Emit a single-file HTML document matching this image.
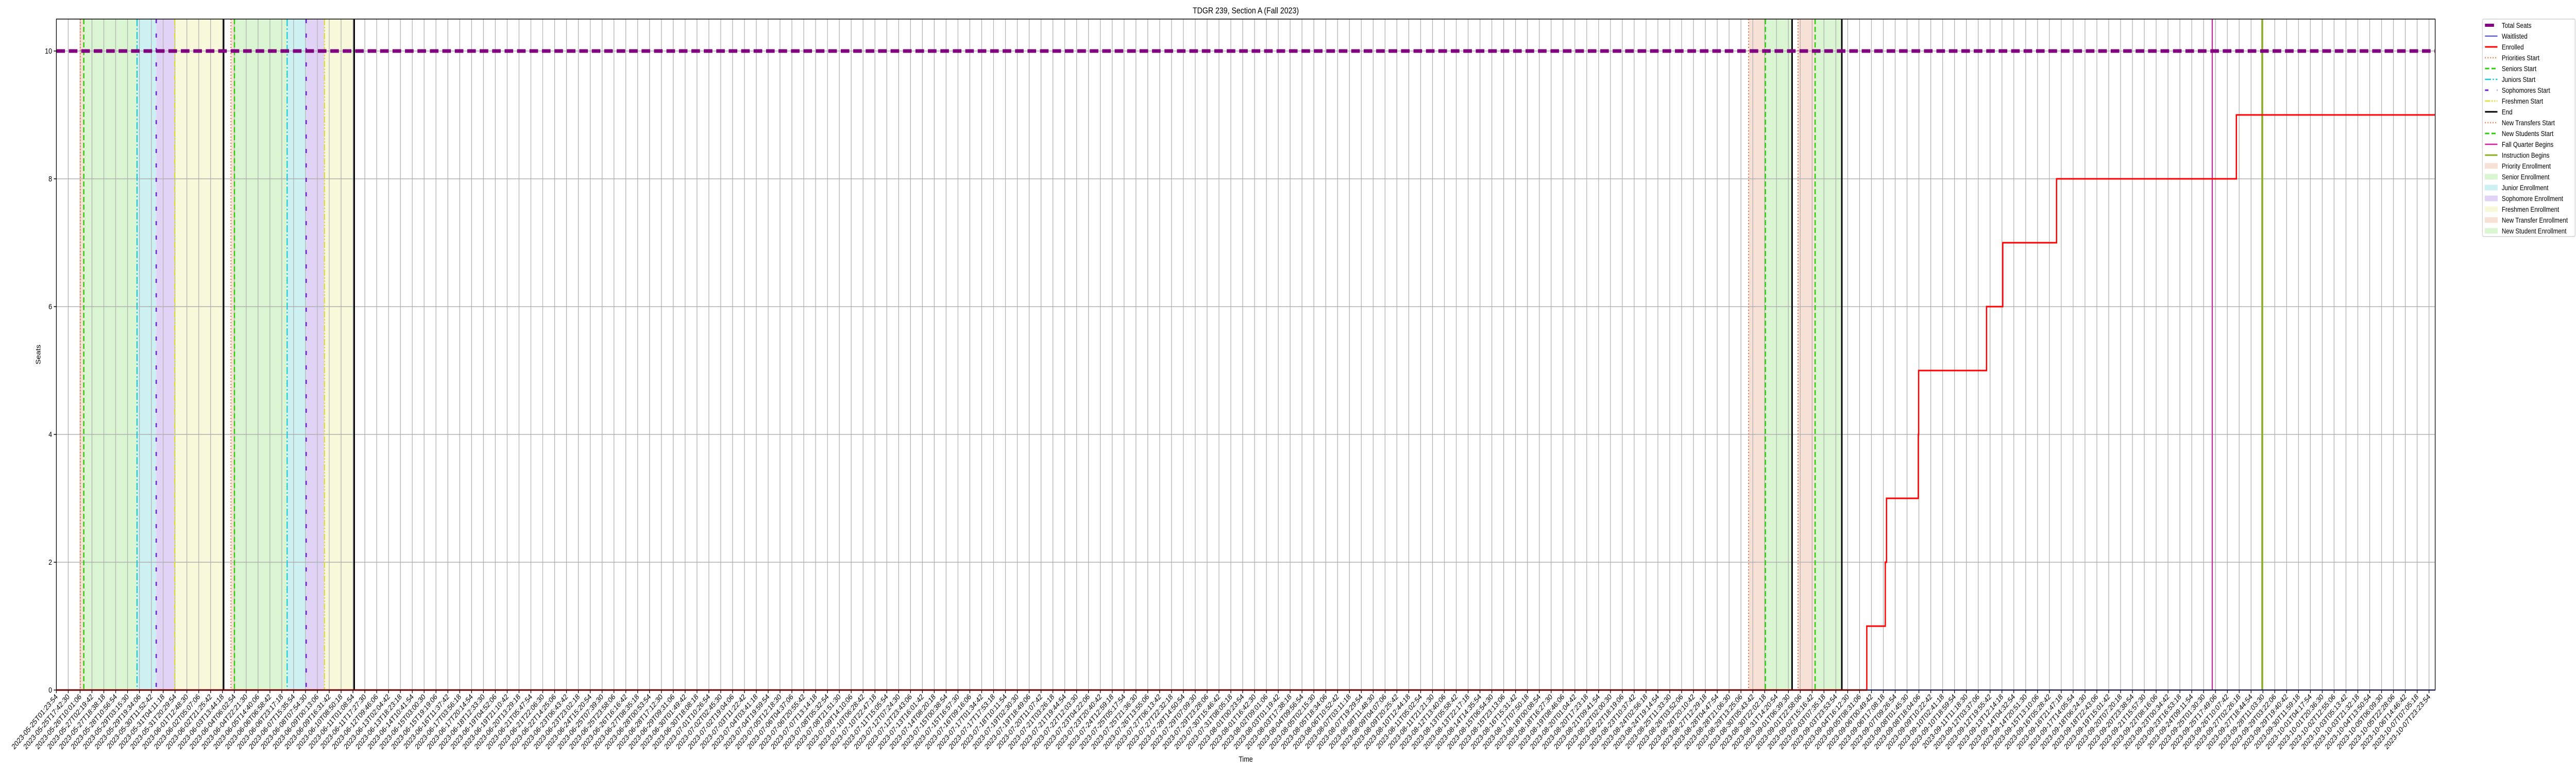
<!DOCTYPE html>
<html><head><meta charset="utf-8"><title>TDGR 239, Section A (Fall 2023)</title>
<style>
html,body{margin:0;padding:0;background:#fff;width:100%;height:100%;overflow:hidden;}
svg{display:block;position:absolute;left:0;top:0;width:100vw;height:100vh;font-family:"Liberation Sans","DejaVu Sans",sans-serif;}
</style></head>
<body>
<svg id="chart" viewBox="0 0 6000 1500" preserveAspectRatio="none" xmlns="http://www.w3.org/2000/svg" overflow="hidden">
<rect width="6000" height="1500" fill="#fff"/>
<g id="spans"></g><g id="grid"></g><g id="vlines"></g><g id="series"></g><g id="axes"></g><g id="legend"></g>
</svg>
<script>
// ---- data (x in days since 2023-05-25T01:23:54) ----
const startTime = Date.UTC(2023,4,25,1,23,54);
const tickCount = 201;
const tickStepHours = 16.31;
const yTicks = [0,2,4,6,8,10];
const totalSeats = 10;
const enrolledX = [0, 103.71, 104.77, 104.84, 106.66, 106.68, 110.57, 111.50, 114.58, 124.88, 136.27];
const enrolledY = [0, 1, 2, 3, 4, 5, 6, 7, 8, 9, 9];
const waitlistX = [99.43, 136.27];
const waitlistY = [0, 0];
const spanNames = ['priority','senior','junior','sophomore','freshman','priority','senior','junior','sophomore','freshman','new-transfer','new-student','new-transfer','new-student'];
const spanStart = [1.37,1.57,4.62,5.72,6.78,10.00,10.20,13.22,14.31,15.36,96.94,97.90,99.77,100.75];
const spanEnd   = [1.57,4.62,5.72,6.78,9.58,10.20,13.22,14.31,15.36,17.06,97.90,99.43,100.75,102.28];
const lineNames = ['priorities-start','seniors-start','juniors-start','sophomores-start','freshmen-start','end','priorities-start','seniors-start','juniors-start','sophomores-start','freshmen-start','end','new-transfers-start','new-students-start','end','new-transfers-start','new-students-start','end','fall-quarter-begins','instruction-begins'];
const lineX = [1.37,1.57,4.62,5.72,6.78,9.58,10.00,10.20,13.22,14.31,15.36,17.06,96.94,97.90,99.43,99.77,100.75,102.28,123.50,126.36];

// ---- layout ----
const L=131.3,R=5672,T=37,B=1339;
const xMax=136.27, yMin=0, yMax=10.5;
const NS='http://www.w3.org/2000/svg';
function xs(d){return L+(d/xMax)*(R-L);}
function ys(v){return B-(v-yMin)/(yMax-yMin)*(B-T);}
function mk(tag,attrs,parent){const e=document.createElementNS(NS,tag);for(const k in attrs)e.setAttribute(k,attrs[k]);parent.appendChild(e);return e;}
const spanFill={priority:'#f7e0d6','senior':'#daf5d2','junior':'#cdf1f3','sophomore':'#e0d3f6','freshman':'#f8f8da','new-transfer':'#f7e0d6','new-student':'#daf5d2'};
const lineStyle={
 'priorities-start':{c:'#f0703a',w:2.5,d:'2 4'},
 'seniors-start':{c:'#33cc11',w:3,d:'10 5'},
 'juniors-start':{c:'#12c8d8',w:2.5,d:'14 4 3 4'},
 'sophomores-start':{c:'#6a20d8',w:3,d:'8 20'},
 'freshmen-start':{c:'#dddd30',w:2.5,d:'12 3 3 3 3 3'},
 'end':{c:'#000',w:3.5,d:''},
 'new-transfers-start':{c:'#f0703a',w:2.5,d:'2 4'},
 'new-students-start':{c:'#33cc11',w:3,d:'10 5'},
 'fall-quarter-begins':{c:'#e01aa0',w:2.5,d:''},
 'instruction-begins':{c:'#88b020',w:4,d:''}
};
const sp=document.getElementById('spans');
spanStart.forEach((s,i)=>{
 const r=mk('rect',{x:xs(s),y:T,width:xs(spanEnd[i])-xs(s),height:B-T,fill:spanFill[spanNames[i]]},sp);
 
 
});
const gr=document.getElementById('grid');
const ax=document.getElementById('axes');
function fmt(ms){const d=new Date(ms);const p=n=>String(n).padStart(2,'0');return d.getUTCFullYear()+'-'+p(d.getUTCMonth()+1)+'-'+p(d.getUTCDate())+'T'+p(d.getUTCHours())+':'+p(d.getUTCMinutes())+':'+p(d.getUTCSeconds());}
for(let i=0;i<tickCount;i++){
 const d=i*tickStepHours/24, x=xs(d);
 const g=mk('line',{x1:x,x2:x,y1:T,y2:B,stroke:'#b0b0b0','stroke-width':1.5},gr);
 
 
 mk('line',{x1:x,x2:x,y1:B,y2:B+6,stroke:'#000','stroke-width':1.5},ax);
 const t=mk('text',{x:0,y:0,'font-size':15,'text-anchor':'end',transform:`translate(${x+4},${B+14}) rotate(-45)`,fill:'#000'},ax);
 t.textContent=fmt(startTime+d*86400000);
 
 
}
yTicks.forEach(v=>{
 const y=ys(v);
 const g=mk('line',{x1:L,x2:R,y1:y,y2:y,stroke:'#b0b0b0','stroke-width':1.5},gr);
 
 
 mk('line',{x1:L-6,x2:L,y1:y,y2:y,stroke:'#000','stroke-width':1.5},ax);
 const t=mk('text',{x:L-10,y:y+5,'font-size':15,'text-anchor':'end'},ax);
 t.textContent=String(v);
 
 
});
const vl=document.getElementById('vlines');
lineX.forEach((d,i)=>{
 const s=lineStyle[lineNames[i]];
 const l=mk('line',{x1:xs(d),x2:xs(d),y1:T,y2:B,stroke:s.c,'stroke-width':s.w},vl);
 if(s.d)l.setAttribute('stroke-dasharray',s.d);
 
 
});
const se=document.getElementById('series');
const ts=mk('line',{x1:L,x2:R,y1:ys(totalSeats),y2:ys(totalSeats),stroke:'#800080','stroke-width':7,'stroke-dasharray':'20 9'},se);


function stepPath(X,Y){let p=`M${xs(X[0])},${ys(Y[0])}`;for(let i=1;i<X.length;i++){p+=` L${xs(X[i])},${ys(Y[i-1])} L${xs(X[i])},${ys(Y[i])}`;}return p;}
const wl=mk('path',{d:stepPath(waitlistX,waitlistY),fill:'none',stroke:'#0000ff','stroke-width':2},se);


const en=mk('path',{d:stepPath(enrolledX,enrolledY),fill:'none',stroke:'#ff0000','stroke-width':3},se);


const fr=mk('rect',{x:L,y:T,width:R-L,height:B-T,fill:'none',stroke:'#000','stroke-width':1.5},ax);


const tt=mk('text',{x:(L+R)/2,y:26,'font-size':17,'text-anchor':'middle'},ax);
tt.textContent='TDGR 239, Section A (Fall 2023)';


const xl=mk('text',{x:(L+R)/2,y:1478,'font-size':15,'text-anchor':'middle'},ax);
xl.textContent='Time';


const yl=mk('text',{x:0,y:0,'font-size':15,'text-anchor':'middle',transform:`translate(94,${(T+B)/2}) rotate(-90)`},ax);
yl.textContent='Seats';



// ---- legend ----
const legLabels=['Total Seats','Waitlisted','Enrolled','Priorities Start','Seniors Start','Juniors Start','Sophomores Start','Freshmen Start','End','New Transfers Start','New Students Start','Fall Quarter Begins','Instruction Begins','Priority Enrollment','Senior Enrollment','Junior Enrollment','Sophomore Enrollment','Freshmen Enrollment','New Transfer Enrollment','New Student Enrollment'];
const legKinds=['total','wait','enr','priorities-start','seniors-start','juniors-start','sophomores-start','freshmen-start','end','new-transfers-start','new-students-start','fall-quarter-begins','instruction-begins','priority','senior','junior','sophomore','freshman','new-transfer','new-student'];
const lg=document.getElementById('legend');
const box=mk('rect',{x:5782,y:37,width:216,height:422,rx:3,fill:'#fff',stroke:'#d0d0d0','stroke-width':1.5},lg);


legLabels.forEach((lab,i)=>{
 const y=49+i*21;
 const g=mk('g',{},lg);
 
 
 const k=legKinds[i];
 if(k==='total')mk('line',{x1:5788,x2:5809,y1:y,y2:y,stroke:'#800080','stroke-width':6},g);
 else if(k==='wait')mk('line',{x1:5788,x2:5817,y1:y,y2:y,stroke:'#0000ff','stroke-width':1.5},g);
 else if(k==='enr')mk('line',{x1:5788,x2:5817,y1:y,y2:y,stroke:'#ff0000','stroke-width':3},g);
 else if(lineStyle[k]){const s=lineStyle[k];const l=mk('line',{x1:5788,x2:5817,y1:y,y2:y,stroke:s.c,'stroke-width':Math.min(s.w,3)},g);if(s.d)l.setAttribute('stroke-dasharray',s.d);}
 else mk('rect',{x:5788,y:y-5,width:29,height:10,fill:spanFill[k],stroke:spanFill[k]},g);
 const t=mk('text',{x:5827,y:y+5,'font-size':14},g);
 t.textContent=lab;
});
</script>
</body></html>
